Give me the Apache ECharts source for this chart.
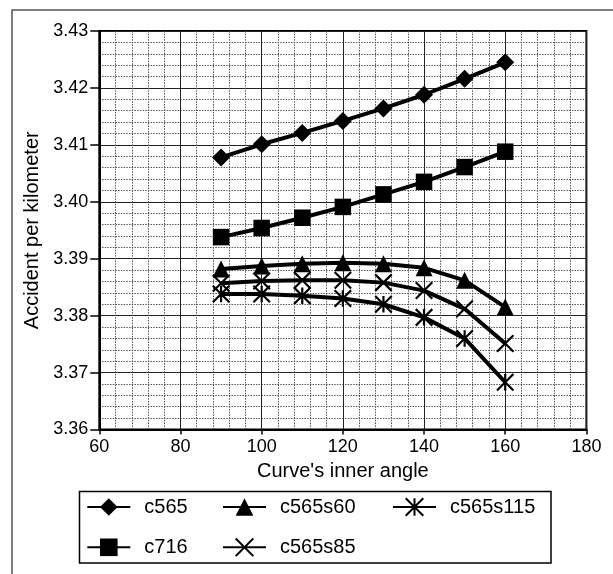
<!DOCTYPE html>
<html>
<head>
<meta charset="utf-8">
<script src="https://cdn.jsdelivr.net/npm/echarts@6/dist/echarts.min.js"></script>
<style>
html,body{margin:0;padding:0;background:#fff;}
#c{width:613px;height:574px;}
</style>
</head>
<body>
<div id="c"></div>
<script>
const angles = [90, 100, 110, 120, 130, 140, 150, 160];
const c565 = [3.4078, 3.4101, 3.4121, 3.4142, 3.4164, 3.4188, 3.4216, 3.4245];
const c716 = [3.3938, 3.3954, 3.3972, 3.3991, 3.4013, 3.4035, 3.4061, 3.4088];
const c565s60 = [3.3882, 3.3887, 3.3891, 3.3893, 3.3891, 3.3884, 3.3862, 3.3815];
const c565s85 = [3.3857, 3.3861, 3.3862, 3.3862, 3.3858, 3.3844, 3.3812, 3.3751];
const c565s115 = [3.3838, 3.3838, 3.3835, 3.3830, 3.3820, 3.3797, 3.3760, 3.3683];
const seriesNames = ['c565', 'c716', 'c565s60', 'c565s85', 'c565s115'];

const FONT = 'Liberation Sans, Arial, sans-serif';
const pairs = (ys) => angles.map((a, i) => [a, ys[i]]);

const xPath = 'path://M0,0L16,16M16,0L0,16';
const starPath = 'path://M0,0L16,16M16,0L0,16M8,0L8,16';

function mkSeries(name, ys, symbol, size, open) {
  return {
    name: name,
    type: 'line',
    data: pairs(ys),
    symbol: symbol,
    symbolSize: size,
    showSymbol: true,
    lineStyle: { color: '#000', width: 4 },
    itemStyle: open
      ? { color: 'rgba(0,0,0,0)', borderColor: '#000', borderWidth: 2.2 }
      : { color: '#000', borderColor: '#000', borderWidth: 0 },
    emphasis: { disabled: true },
    z: 3
  };
}

function mkLegend(name, left, top) {
  return {
    data: [name],
    left: left,
    top: top,
    orient: 'horizontal',
    padding: 0,
    itemGap: 0,
    itemWidth: 43,
    itemHeight: 22,
    selectedMode: false,
    textStyle: { fontFamily: FONT, fontSize: 20, color: '#000', padding: [0, 0, 0, 9] }
  };
}

const chart = echarts.init(document.getElementById('c'), null, { renderer: 'canvas' });
chart.setOption({
  animation: false,
  backgroundColor: '#fff',
  graphic: [
    { type: 'rect', shape: { x: 12, y: 10, width: 700, height: 700 },
      style: { fill: 'none', stroke: '#555', lineWidth: 1.5 }, z: 0 },
    { type: 'rect', shape: { x: 79.5, y: 491.5, width: 471.5, height: 71.5 },
      style: { fill: 'none', stroke: '#000', lineWidth: 1.5 }, z: 0 }
  ],
  legend: [
    mkLegend('c565', 86.3, 497),
    mkLegend('c565s60', 222, 497),
    mkLegend('c565s115', 392, 497),
    mkLegend('c716', 86.3, 537.3),
    mkLegend('c565s85', 222, 537.3)
  ],
  grid: {
    left: 99.3, top: 31, width: 487.1, height: 398.5,
    show: true, borderColor: '#000', borderWidth: 2, backgroundColor: 'transparent',
    containLabel: false
  },
  xAxis: {
    type: 'value', min: 60, max: 180, interval: 20,
    name: "Curve's inner angle", nameLocation: 'middle', nameGap: 31,
    nameTextStyle: { fontFamily: FONT, fontSize: 20, color: '#000' },
    axisLine: { show: true, lineStyle: { color: '#000', width: 2 } },
    axisTick: { show: true, inside: false, length: 5, lineStyle: { color: '#000', width: 1.5 } },
    axisLabel: { fontFamily: FONT, fontSize: 18, color: '#000', margin: 9 },
    splitLine: { show: true, lineStyle: { color: '#222', width: 1 } },
    minorTick: { show: false, splitNumber: 5 },
    minorSplitLine: { show: true, lineStyle: { color: '#555', width: 1, type: [1.5, 1.2] } }
  },
  yAxis: {
    type: 'value', min: 3.36, max: 3.43, interval: 0.01,
    name: 'Accident per kilometer', nameLocation: 'middle', nameGap: 53, nameRotate: 90,
    nameTextStyle: { fontFamily: FONT, fontSize: 20, color: '#000' },
    axisLine: { show: true, lineStyle: { color: '#000', width: 2 } },
    axisTick: { show: true, inside: false, length: 9, lineStyle: { color: '#000', width: 1.5 } },
    axisLabel: { fontFamily: FONT, fontSize: 18, color: '#000', margin: 11,
      formatter: (v) => v.toFixed(2) },
    splitLine: { show: true, lineStyle: { color: '#222', width: 1 } },
    minorTick: { show: false, splitNumber: 5 },
    minorSplitLine: { show: true, lineStyle: { color: '#555', width: 1, type: [1.5, 1.2] } }
  },
  series: [
    mkSeries(seriesNames[0], c565, 'diamond', [18, 18], false),
    mkSeries(seriesNames[1], c716, 'rect', 16.5, false),
    mkSeries(seriesNames[2], c565s60, 'triangle', 17, false),
    mkSeries(seriesNames[3], c565s85, xPath, 16.5, true),
    mkSeries(seriesNames[4], c565s115, starPath, 16.5, true)
  ]
});
</script>
</body>
</html>
